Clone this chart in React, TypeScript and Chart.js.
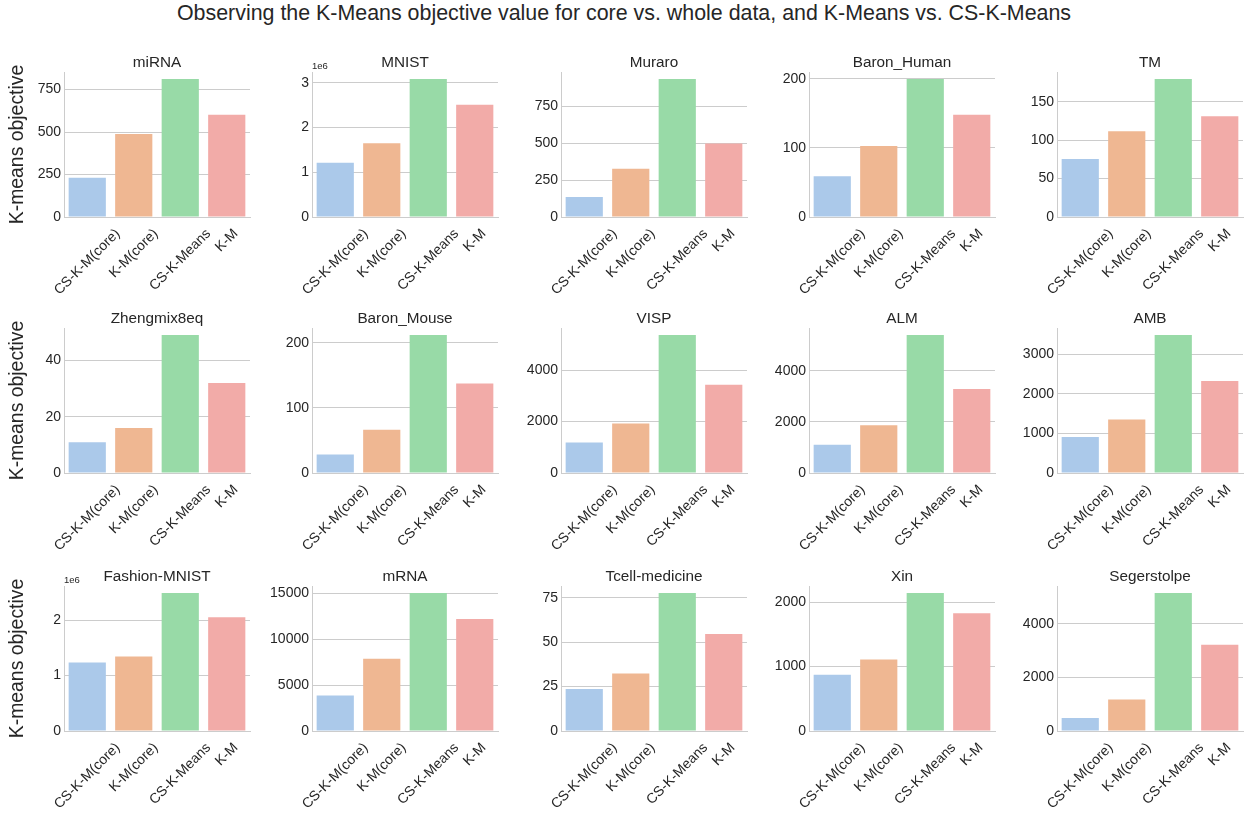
import React, { useEffect, useRef } from 'react';
import { Chart, registerables } from 'chart.js';

Chart.register(...registerables);

// ---------------- data ----------------
const categories = ['CS-K-M(core)', 'K-M(core)', 'CS-K-Means', 'K-M'];

const datasetNames = [
  'miRNA', 'MNIST', 'Muraro', 'Baron_Human', 'TM',
  'Zhengmix8eq', 'Baron_Mouse', 'VISP', 'ALM', 'AMB',
  'Fashion-MNIST', 'mRNA', 'Tcell-medicine', 'Xin', 'Segerstolpe',
];

const miRNA = [231, 488, 813, 602];
const MNIST = [1215000, 1650000, 3090000, 2510000];
const Muraro = [136, 327, 936, 498];
const BaronHuman = [59, 103, 200, 148];
const TM = [75.4, 111.6, 179.7, 131.2];
const Zhengmix8eq = [10.9, 16.0, 49.1, 32.0];
const BaronMouse = [28.4, 66.7, 212.4, 137.5];
const VISP = [1190, 1922, 5373, 3438];
const ALM = [1105, 1868, 5408, 3289];
const AMB = [907, 1347, 3483, 2322];
const FashionMNIST = [1235000, 1343000, 2490000, 2050000];
const mRNA = [3860, 7866, 15040, 12200];
const TcellMedicine = [23.7, 32.4, 77.8, 54.6];
const Xin = [873, 1112, 2145, 1829];
const Segerstolpe = [487, 1175, 5162, 3225];

const panelValues = [
  miRNA, MNIST, Muraro, BaronHuman, TM,
  Zhengmix8eq, BaronMouse, VISP, ALM, AMB,
  FashionMNIST, mRNA, TcellMedicine, Xin, Segerstolpe,
];

// y tick values (raw units) for each panel
const yTicks = [
  [0, 250, 500, 750],
  [0, 1e6, 2e6, 3e6],
  [0, 250, 500, 750],
  [0, 100, 200],
  [0, 50, 100, 150],
  [0, 20, 40],
  [0, 100, 200],
  [0, 2000, 4000],
  [0, 2000, 4000],
  [0, 1000, 2000, 3000],
  [0, 1e6, 2e6],
  [0, 5000, 10000, 15000],
  [0, 25, 50, 75],
  [0, 1000, 2000],
  [0, 2000, 4000],
];
// divisor applied to tick labels (shown as offset text "1e6")
const tickScales = [
  1, 1e6, 1, 1, 1,
  1, 1, 1, 1, 1,
  1e6, 1, 1, 1, 1,
];

const mainTitle =
  'Observing the K-Means objective value for core vs. whole data, and K-Means vs. CS-K-Means';
const yAxisLabel = 'K-means objective';

// ---------------- styles ----------------
const barColors = [
  'rgb(171,201,234)',
  'rgb(239,183,146)',
  'rgb(152,218,167)',
  'rgb(242,171,168)',
];
const FONT = "'Liberation Sans', Arial, sans-serif";
const TEXT = '#262626';
const GRID = '#cccccc';

const COL_LEFTS = [64, 312, 561, 809, 1057];
const ROW_TOPS = [72, 328, 586];
const PLOT_W = 186;
const PLOT_H = 145;
const Y_AXIS_W = 64;
const TOP_PAD = 30;
const RIGHT_PAD = 4;
const X_AXIS_H = 100;
const CANVAS_W = Y_AXIS_W + PLOT_W + RIGHT_PAD;
const CANVAS_H = TOP_PAD + PLOT_H + X_AXIS_H;

const panelPlugin = {
  id: 'panelDecor',
  afterDraw(chart: any, _args: any, opts: any) {
    const { ctx, chartArea } = chart;
    const xScale = chart.scales.x;
    ctx.save();
    ctx.fillStyle = TEXT;
    // rotated category labels, centred on the tick (matplotlib style)
    ctx.font = `14px ${FONT}`;
    ctx.textAlign = 'center';
    ctx.textBaseline = 'middle';
    categories.forEach((label, i) => {
      const x = xScale.getPixelForValue(i);
      const w = ctx.measureText(label).width;
      const y = chartArea.bottom + 14.5 + w / (2 * Math.SQRT2);
      ctx.save();
      ctx.translate(x, y);
      ctx.rotate(-Math.PI / 4);
      ctx.fillText(label, 0, 0);
      ctx.restore();
    });
    // subplot title
    ctx.font = `15.3px ${FONT}`;
    ctx.textBaseline = 'alphabetic';
    ctx.fillText(opts.title, (chartArea.left + chartArea.right) / 2, chartArea.top - 5);
    // offset text
    if (opts.offsetText) {
      ctx.font = `9.5px ${FONT}`;
      ctx.textAlign = 'left';
      ctx.fillText(opts.offsetText, chartArea.left, chartArea.top - 3);
    }
    ctx.restore();
  },
};

function Panel({ idx }: { idx: number }) {
  const ref = useRef<HTMLCanvasElement>(null);
  const row = Math.floor(idx / 5);
  const col = idx % 5;
  const left = COL_LEFTS[col] - Y_AXIS_W;
  const top = ROW_TOPS[row] - TOP_PAD;

  useEffect(() => {
    const values = panelValues[idx];
    const tickVals = yTicks[idx];
    const scale = tickScales[idx];
    const chart = new Chart(ref.current as HTMLCanvasElement, {
      type: 'bar',
      data: {
        labels: categories,
        datasets: [
          {
            data: values,
            backgroundColor: barColors,
            borderWidth: 0,
            categoryPercentage: 1,
            barPercentage: 0.8,
          },
        ],
      },
      options: {
        responsive: false,
        animation: false,
        devicePixelRatio: 1,
        layout: { padding: { top: TOP_PAD, right: RIGHT_PAD, left: 0, bottom: 0 } },
        plugins: {
          legend: { display: false },
          tooltip: { enabled: false },
          title: { display: false },
          panelDecor: {
            title: datasetNames[idx],
            offsetText: scale === 1e6 ? '1e6' : '',
          },
        } as any,
        scales: {
          x: {
            type: 'category',
            grid: { display: false, drawTicks: false },
            border: { display: true, color: GRID, width: 1 },
            ticks: { display: false },
            afterFit: (s: any) => {
              s.height = X_AXIS_H;
            },
          },
          y: {
            type: 'linear',
            min: 0,
            max: Math.max(...values) * 1.05,
            grid: { color: GRID, lineWidth: 1, drawTicks: false },
            border: { display: true, color: GRID, width: 1 },
            ticks: {
              padding: 3,
              color: TEXT,
              font: { family: FONT, size: 14 },
              callback: (v: any) => String(Math.round((Number(v) / scale) * 1000) / 1000),
            },
            afterBuildTicks: (s: any) => {
              s.ticks = tickVals.map((v) => ({ value: v }));
            },
            afterFit: (s: any) => {
              s.width = Y_AXIS_W;
            },
            title: {
              display: col === 0,
              text: yAxisLabel,
              color: TEXT,
              font: { family: FONT, size: 19.4 },
              padding: { top: 6, bottom: 0 },
            },
          },
        },
      } as any,
      plugins: [panelPlugin as any],
    });
    return () => chart.destroy();
  }, [idx]);

  return (
    <canvas
      ref={ref}
      width={CANVAS_W}
      height={CANVAS_H}
      style={{ position: 'absolute', left, top, width: CANVAS_W, height: CANVAS_H }}
    />
  );
}

export default function App() {
  return (
    <div
      style={{
        position: 'absolute',
        left: 0,
        top: 0,
        width: 1248,
        height: 813,
        background: '#ffffff',
        fontFamily: FONT,
        overflow: 'hidden',
      }}
    >
      <div
        style={{
          position: 'absolute',
          left: 0,
          top: 3,
          width: 1248,
          textAlign: 'center',
          fontSize: '21.4px',
          lineHeight: '21.4px',
          color: TEXT,
          whiteSpace: 'nowrap',
        }}
      >
        {mainTitle}
      </div>
      {datasetNames.map((_, i) => (
        <Panel key={i} idx={i} />
      ))}
    </div>
  );
}
